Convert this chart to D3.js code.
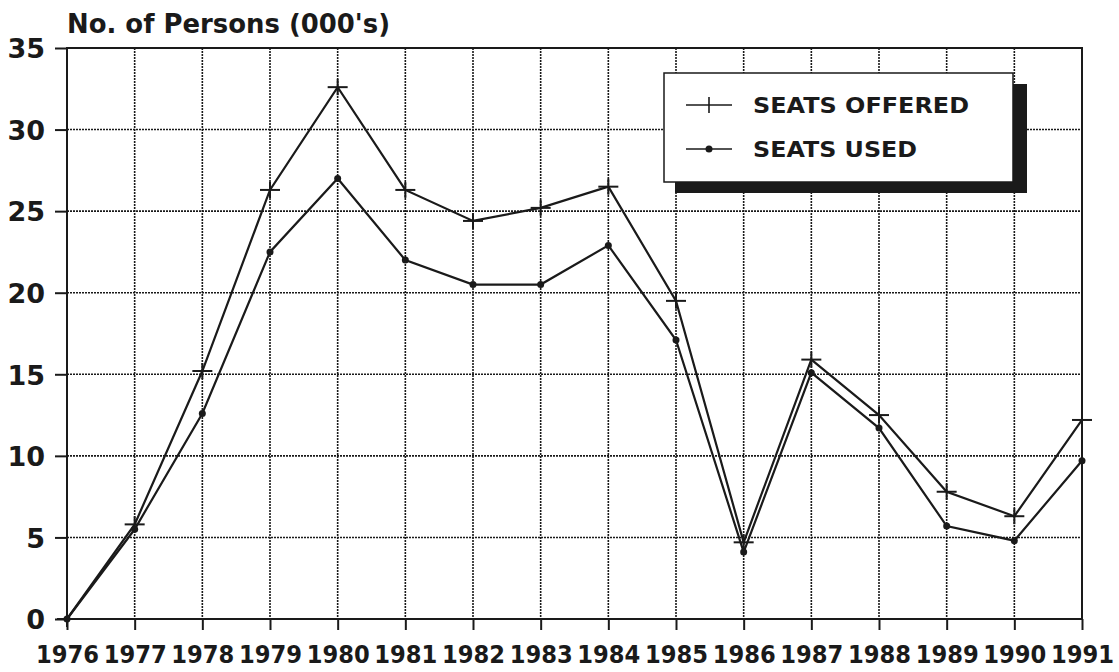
<!DOCTYPE html>
<html lang="en">
<head>
    <meta charset="UTF-8">
    <title>Seats offered / used</title>
    <script src="https://d3js.org/d3.v7.min.js"></script>
    <style>
        body { margin: 0; background: #fff; }
        text { font-family: "DejaVu Sans", sans-serif; font-weight: bold; fill: #1a1a1a; }
    </style>
</head>
<body>
    <script>
        var years = [1976, 1977, 1978, 1979, 1980, 1981, 1982, 1983, 1984, 1985, 1986, 1987, 1988, 1989, 1990, 1991];
        var seatsOffered = [0, 5.8, 15.2, 26.3, 32.6, 26.3, 24.4, 25.2, 26.5, 19.5, 4.7, 15.9, 12.5, 7.8, 6.3, 12.2];
        var seatsUsed = [0, 5.5, 12.6, 22.5, 27.0, 22.0, 20.5, 20.5, 22.9, 17.1, 4.1, 15.1, 11.7, 5.7, 4.8, 9.7];
        var yTicks = [0, 5, 10, 15, 20, 25, 30, 35];
        var seriesNames = ["SEATS OFFERED", "SEATS USED"];

        var width = 1119, height = 672;
        var margin = { left: 67, right: 37, top: 48, bottom: 53 };
        var ink = "#1a1a1a";

        var svg = d3.select("body").append("svg")
            .attr("width", width)
            .attr("height", height);

        var x = d3.scaleLinear()
            .domain([1976, 1991])
            .range([margin.left, width - margin.right]);
        var y = d3.scaleLinear()
            .domain([0, 35])
            .range([height - margin.bottom, margin.top]);

        // dotted grid
        svg.append("g").selectAll("line")
            .data(years)
            .enter().append("line")
            .attr("x1", d => x(d)).attr("x2", d => x(d))
            .attr("y1", y(35)).attr("y2", y(0))
            .attr("stroke", ink)
            .attr("stroke-width", 1.6)
            .attr("stroke-dasharray", "2,1");
        svg.append("g").selectAll("line")
            .data(yTicks)
            .enter().append("line")
            .attr("x1", x(1976)).attr("x2", x(1991))
            .attr("y1", d => y(d)).attr("y2", d => y(d))
            .attr("stroke", ink)
            .attr("stroke-width", 1.6)
            .attr("stroke-dasharray", "2,1");

        // frame
        svg.append("rect")
            .attr("x", x(1976)).attr("y", y(35))
            .attr("width", x(1991) - x(1976))
            .attr("height", y(0) - y(35))
            .attr("fill", "none")
            .attr("stroke", ink)
            .attr("stroke-width", 2);

        // axes
        var gy = svg.append("g")
            .attr("transform", "translate(" + x(1976) + ",0)")
            .call(d3.axisLeft(y).tickValues(yTicks).tickSize(12));
        gy.select(".domain").remove();
        gy.selectAll("line").attr("stroke", ink).attr("stroke-width", 2);
        gy.selectAll("text")
            .style("font-size", "27px")
            .attr("x", -22)
            .attr("dy", "0.36em");

        var gx = svg.append("g")
            .attr("transform", "translate(0," + y(0) + ")")
            .call(d3.axisBottom(x).tickValues(years).tickFormat(d3.format("d")).tickSize(11));
        gx.select(".domain").remove();
        gx.selectAll("line").attr("stroke", ink).attr("stroke-width", 2);
        gx.selectAll("text")
            .style("font-size", "24px")
            .attr("y", 44)
            .attr("dy", null)
            .attr("textLength", 63)
            .attr("lengthAdjust", "spacingAndGlyphs");

        // title
        svg.append("text")
            .attr("x", 67).attr("y", 33)
            .style("font-size", "26px")
            .attr("textLength", 323)
            .attr("lengthAdjust", "spacingAndGlyphs")
            .text("No. of Persons (000's)");

        // lines
        var line = d3.line()
            .x(d => x(d[0]))
            .y(d => y(d[1]));
        var offered = years.map((d, i) => [d, seatsOffered[i]]);
        var used = years.map((d, i) => [d, seatsUsed[i]]);

        [offered, used].forEach(function (s) {
            svg.append("path")
                .datum(s)
                .attr("d", line)
                .attr("fill", "none")
                .attr("stroke", ink)
                .attr("stroke-width", 2.2);
        });

        // cross markers
        var crosses = svg.append("g").selectAll("g")
            .data(offered)
            .enter().append("g")
            .attr("transform", d => "translate(" + x(d[0]) + "," + y(d[1]) + ")");
        crosses.append("line").attr("x1", -10).attr("x2", 10)
            .attr("stroke", ink).attr("stroke-width", 2);
        crosses.append("line").attr("y1", -8).attr("y2", 8)
            .attr("stroke", ink).attr("stroke-width", 2);

        // dot markers
        svg.append("g").selectAll("circle")
            .data(used)
            .enter().append("circle")
            .attr("cx", d => x(d[0]))
            .attr("cy", d => y(d[1]))
            .attr("r", 3.5)
            .attr("fill", ink);

        // legend with drop shadow
        var lg = svg.append("g").attr("transform", "translate(664,73)");
        lg.append("rect")
            .attr("x", 11).attr("y", 11)
            .attr("width", 352).attr("height", 109)
            .attr("fill", ink);
        lg.append("rect")
            .attr("width", 349).attr("height", 109)
            .attr("fill", "#fff")
            .attr("stroke", ink)
            .attr("stroke-width", 1.5);

        var items = lg.selectAll("g.item")
            .data(seriesNames)
            .enter().append("g")
            .attr("class", "item")
            .attr("transform", (d, i) => "translate(0," + (32 + i * 44) + ")");
        items.append("line")
            .attr("x1", 22).attr("x2", 68)
            .attr("stroke", ink).attr("stroke-width", 1.6);
        items.filter((d, i) => i === 0).append("line")
            .attr("x1", 45).attr("x2", 45).attr("y1", -8).attr("y2", 8)
            .attr("stroke", ink).attr("stroke-width", 1.6);
        items.filter((d, i) => i === 1).append("circle")
            .attr("cx", 45).attr("r", 3.5)
            .attr("fill", ink);
        items.append("text")
            .attr("x", 89)
            .attr("y", 8)
            .style("font-size", "22px")
            .attr("textLength", (d, i) => i === 0 ? 216 : 164)
            .attr("lengthAdjust", "spacingAndGlyphs")
            .text(d => d);
    </script>
</body>
</html>
